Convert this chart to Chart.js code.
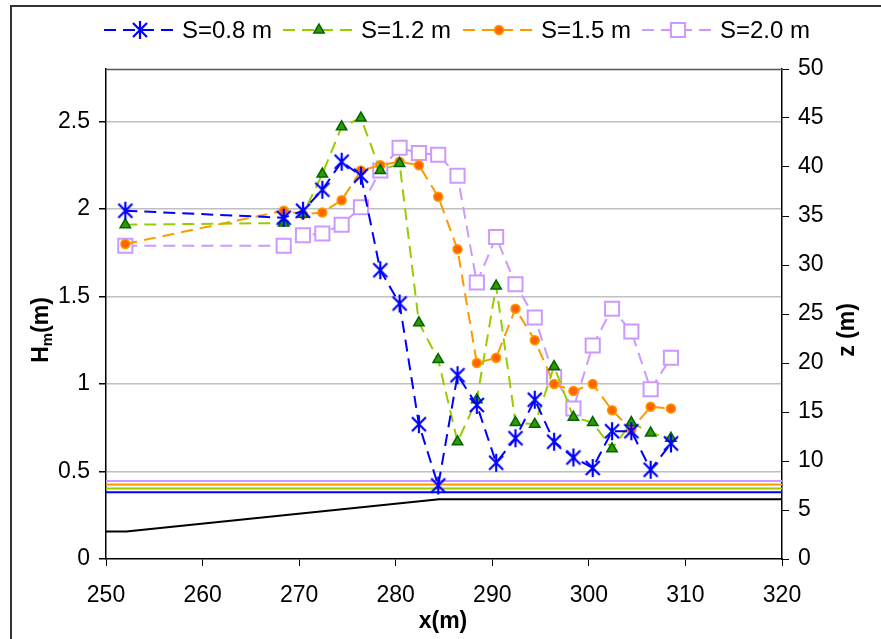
<!DOCTYPE html>
<html lang="en">
<head>
<meta charset="UTF-8" />
<title>Hm along x</title>
<script src="https://cdn.jsdelivr.net/npm/chart.js"></script>
<style>
  body { margin: 0; background: #fff; }
  #wrap { width: 881px; height: 639px; position: relative; }
</style>
</head>
<body>
<div id="wrap"><canvas id="chart"></canvas></div>
<script>
// measuring stations (m)
const xPos = [252, 268.4, 270.4, 272.4, 274.4, 276.4, 278.4, 280.4, 282.4, 284.4, 286.4,
              288.4, 290.4, 292.4, 294.4, 296.4, 298.4, 300.4, 302.4, 304.4, 306.4, 308.5];

// Hm (m) per spacing
const hm08 = [1.99, 1.95, 1.99, 2.11, 2.27, 2.19, 1.65, 1.46, 0.77, 0.42, 1.05,
              0.88, 0.55, 0.69, 0.91, 0.67, 0.58, 0.52, 0.73, 0.73, 0.51, 0.66];
const hm12 = [1.91, 1.92, 1.97, 2.20, 2.47, 2.52, 2.22, 2.26, 1.35, 1.14, 0.67,
              0.91, 1.56, 0.78, 0.77, 1.10, 0.81, 0.78, 0.63, 0.78, 0.72, 0.69];
const hm15 = [1.80, 1.99, 1.97, 1.98, 2.05, 2.22, 2.25, 2.27, 2.25, 2.07, 1.77,
              1.12, 1.15, 1.43, 1.25, 1.00, 0.96, 1.00, 0.85, 0.74, 0.87, 0.86];
const hm20 = [1.79, 1.79, 1.85, 1.86, 1.91, 2.01, 2.22, 2.35, 2.32, 2.31, 2.19,
              1.58, 1.84, 1.57, 1.38, 1.04, 0.86, 1.22, 1.43, 1.30, 0.97, 1.15];

// water levels z (m), one per spacing, and bed profile
const levelZ = [6.8, 7.2, 7.6, 7.95];
const bedX = [250, 252.1, 284.5, 320];
const bedZ = [2.8, 2.8, 6.1, 6.1];

const seriesNames = ["S=0.8 m", "S=1.2 m", "S=1.5 m", "S=2.0 m"];
const xTicks = [250, 260, 270, 280, 290, 300, 310, 320];
const hTicks = [0, 0.5, 1, 1.5, 2, 2.5];
const zTicks = [0, 5, 10, 15, 20, 25, 30, 35, 40, 45, 50];

const lineCols = ["#0000ff", "#99cc00", "#ff9900", "#cc99ff"];
const FONT = "'Liberation Sans', Arial, sans-serif";
const DASH = [12, 7];

function pts(ys) { return xPos.map((x, i) => ({ x: x, y: ys[i] })); }

// excel-like star marker: X plus vertical bar
const star = document.createElement("canvas");
star.width = 20; star.height = 20;
(function () {
  const c = star.getContext("2d");
  c.strokeStyle = "#0000ff";
  c.lineWidth = 2.2;
  c.beginPath();
  c.moveTo(3, 3); c.lineTo(17, 17);
  c.moveTo(17, 3); c.lineTo(3, 17);
  c.moveTo(10, 1); c.lineTo(10, 19);
  c.stroke();
})();

const markers = [
  { pointStyle: star, pointRadius: 9, pointBorderWidth: 2, pointBorderColor: "#0000ff", pointBackgroundColor: "#0000ff" },
  { pointStyle: "triangle", pointRadius: 6, pointBorderWidth: 1.5, pointBorderColor: "#006600", pointBackgroundColor: "#339900" },
  { pointStyle: "circle", pointRadius: 4.5, pointBorderWidth: 1.5, pointBorderColor: "#ff9900", pointBackgroundColor: "#ff6600" },
  { pointStyle: "rect", pointRadius: 10, pointBorderWidth: 2, pointBorderColor: "#cc99ff", pointBackgroundColor: "#ffffff" }
];

const datasets = [];
[hm08, hm12, hm15, hm20].forEach((ys, i) => {
  datasets.push(Object.assign({
    label: seriesNames[i],
    data: pts(ys),
    yAxisID: "h",
    borderColor: lineCols[i],
    borderWidth: 2,
    borderDash: DASH,
    tension: 0,
    order: 1
  }, markers[i]));
});
levelZ.forEach((z, i) => {
  datasets.push({
    label: "level " + seriesNames[i],
    data: [{ x: 250, y: z }, { x: 320, y: z }],
    yAxisID: "z",
    borderColor: lineCols[i],
    borderWidth: 2,
    pointRadius: 0,
    order: 2
  });
});
datasets.push({
  label: "bed",
  data: bedX.map((x, i) => ({ x: x, y: bedZ[i] })),
  yAxisID: "z",
  borderColor: "#000000",
  borderWidth: 2,
  pointRadius: 0,
  order: 2
});

// frame, legend and axis titles drawn by hand
const decor = {
  id: "decor",
  afterDraw(chart) {
    const ctx = chart.ctx, a = chart.chartArea;
    ctx.save();
    // outer border
    ctx.strokeStyle = "#333";
    ctx.lineWidth = 2;
    ctx.strokeRect(11, 6, 900, 700);
    // top edge of plot area
    ctx.strokeStyle = "#555";
    ctx.lineWidth = 1.5;
    ctx.beginPath();
    ctx.moveTo(a.left, a.top + 0.5);
    ctx.lineTo(a.right, a.top + 0.5);
    ctx.stroke();

    // legend
    const starts = [104, 283, 463, 642];
    const ly = 30;
    ctx.font = "24px " + FONT;
    ctx.textBaseline = "middle";
    for (let i = 0; i < 4; i++) {
      const x0 = starts[i], x1 = x0 + 72;
      ctx.strokeStyle = lineCols[i];
      ctx.lineWidth = 2;
      ctx.setLineDash(DASH);
      ctx.beginPath();
      ctx.moveTo(x0, ly);
      ctx.lineTo(x1, ly);
      ctx.stroke();
      ctx.setLineDash([]);
      const m = markers[i];
      ctx.fillStyle = m.pointBackgroundColor;
      ctx.strokeStyle = m.pointBorderColor;
      ctx.lineWidth = m.pointBorderWidth;
      Chart.helpers.drawPoint(ctx, { pointStyle: m.pointStyle, radius: m.pointRadius, rotation: 0, borderWidth: m.pointBorderWidth }, (x0 + x1) / 2, ly);
      ctx.fillStyle = "#000";
      ctx.textAlign = "left";
      ctx.fillText(seriesNames[i], x1 + 6, ly + 1);
    }

    // axis titles
    ctx.fillStyle = "#000";
    ctx.font = "bold 23px " + FONT;
    ctx.textAlign = "center";
    ctx.textBaseline = "middle";
    ctx.fillText("x(m)", 443, 622);

    // Hm(m), m as subscript
    ctx.save();
    ctx.translate(40, 330);
    ctx.rotate(-Math.PI / 2);
    ctx.textAlign = "left";
    ctx.textBaseline = "alphabetic";
    const big = "bold 23px " + FONT, small = "bold 15px " + FONT;
    ctx.font = big; const wH = ctx.measureText("H").width;
    ctx.font = small; const wm = ctx.measureText("m").width;
    ctx.font = big; const wP = ctx.measureText("(m)").width;
    let tx = -(wH + wm + wP) / 2;
    ctx.font = big; ctx.fillText("H", tx, 8); tx += wH;
    ctx.font = small; ctx.fillText("m", tx, 12); tx += wm;
    ctx.font = big; ctx.fillText("(m)", tx, 8);
    ctx.restore();

    ctx.save();
    ctx.translate(848, 330);
    ctx.rotate(-Math.PI / 2);
    ctx.font = big;
    ctx.textAlign = "center";
    ctx.textBaseline = "middle";
    ctx.fillText("z (m)", 0, 0);
    ctx.restore();

    ctx.restore();
  }
};

const tickFont = { size: 23, family: FONT };

new Chart(document.getElementById("chart"), {
  type: "line",
  data: { datasets: datasets },
  options: {
    responsive: true,
    maintainAspectRatio: false,
    animation: false,
    layout: { padding: { top: 69, left: 0, right: 0, bottom: 0 } },
    plugins: { legend: { display: false }, tooltip: { enabled: false } },
    scales: {
      x: {
        type: "linear",
        min: 250, max: 320,
        afterBuildTicks: s => { s.ticks = xTicks.map(v => ({ value: v })); },
        afterFit: s => { s.height = 80; },
        grid: { drawOnChartArea: false, tickColor: "#000", tickLength: 7 },
        border: { color: "#000", width: 1.5 },
        ticks: { color: "#000", font: tickFont, padding: 16, maxRotation: 0, callback: v => String(v) }
      },
      h: {
        position: "left",
        min: 0, max: 2.8,
        afterBuildTicks: s => { s.ticks = hTicks.map(v => ({ value: v })); },
        afterFit: s => { s.width = 106; },
        grid: {
          color: c => (c.tick && c.tick.value === 0) ? "rgba(0,0,0,0)" : "#c0c0c0",
          lineWidth: 1.5,
          tickColor: "#000", tickLength: 7
        },
        border: { color: "#000", width: 1.5 },
        ticks: { color: "#000", font: tickFont, padding: 9, callback: v => String(v) }
      },
      z: {
        position: "right",
        min: 0, max: 50,
        afterBuildTicks: s => { s.ticks = zTicks.map(v => ({ value: v })); },
        afterFit: s => { s.width = 99; },
        grid: { drawOnChartArea: false, tickColor: "#000", tickLength: 7 },
        border: { color: "#000", width: 1.5 },
        ticks: { color: "#000", font: tickFont, padding: 9, callback: v => String(v) }
      }
    }
  },
  plugins: [decor]
});
</script>
</body>
</html>
